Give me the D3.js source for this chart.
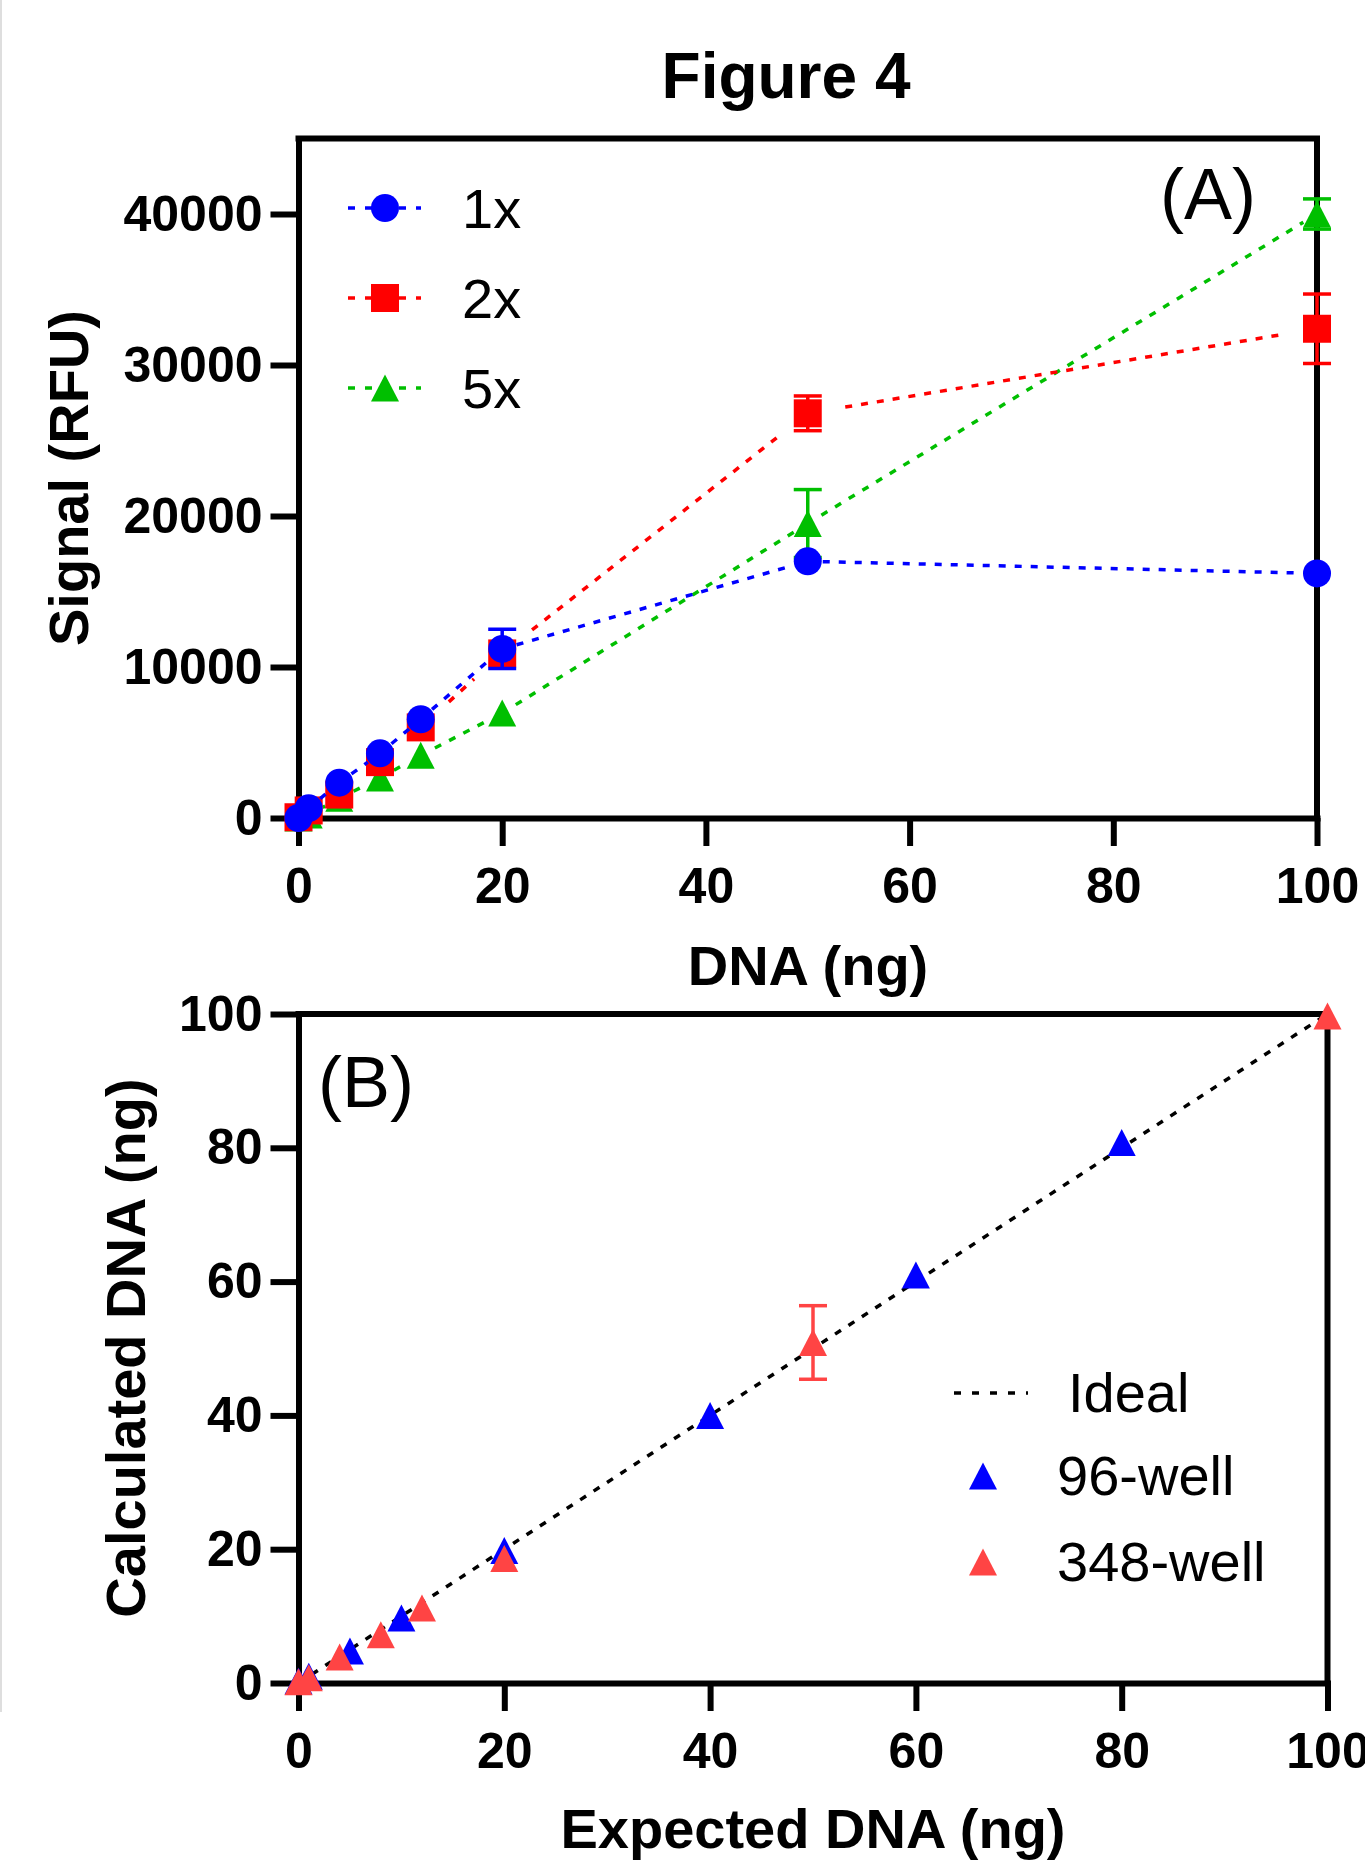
<!DOCTYPE html>
<html>
<head>
<meta charset="utf-8">
<script src="https://cdn.jsdelivr.net/npm/d3@7"></script>
<style>
	body { margin: 0; background: #fff; }
	svg { display: block; font-family: "Liberation Sans", Arial, sans-serif; }
</style>
</head>
<body>
<div id="chart"></div>
<script>
// ---- Panel A data: signal (RFU) vs DNA (ng)
var dnaA = [0, 1, 4, 8, 12, 20, 50, 100];
var sig1x = [0, 650, 2340, 4280, 6540, 11200, 17000, 16200];
var sd1x = [0, 0, 0, 0, 0, 1300, 0, 0];
var sig2x = [50, 500, 1550, 3700, 6000, 10900, 26800, 32400];
var sd2x = [0, 0, 0, 0, 0, 0, 1150, 2300];
var sig5x = [0, 200, 1300, 2650, 4150, 6950, 19500, 40000];
var sd5x = [0, 0, 0, 0, 0, 0, 2250, 1000];
var namesA = ["1x", "2x", "5x"];
var ticksAx = [0, 20, 40, 60, 80, 100];
var ticksAy = [0, 10000, 20000, 30000, 40000];

// ---- Panel B data: calculated vs expected DNA (ng)
var exp96 = [0, 1, 5, 10, 20, 40, 60, 80];
var calc96 = [0.3, 1.0, 4.8, 9.7, 19.8, 40.0, 61.0, 80.8];
var exp348 = [0, 1, 4, 8, 12, 20, 50, 100];
var calc348 = [0.2, 0.8, 3.9, 7.2, 11.2, 18.6, 50.9, 99.7];
var sd348 = [0, 0, 0, 0, 0, 0, 5.5, 0];
var idealLine = [0, 100];
var namesB = ["Ideal", "96-well", "348-well"];
var ticksB = [0, 20, 40, 60, 80, 100];

var W = 1365, H = 1861;
var svg = d3.select("#chart").append("svg")
	.attr("width", W)
	.attr("height", H);

// faint page edge on the left
svg.append("line")
	.attr("x1", 1).attr("x2", 1)
	.attr("y1", 0).attr("y2", 1712)
	.attr("stroke", "#dedede")
	.attr("stroke-width", 2);

// marker shapes
function markerPath(shape) {
	if (shape == "circle") return d3.symbol(d3.symbolCircle, Math.PI * 14 * 14)();
	if (shape == "square") return "M-14,-14H14V14H-14Z";
	return "M0,-13.5L14,13.5L-14,13.5Z";
}

// build axes + frame for a panel
function drawFrame(x, y, xticks, yticks) {
	var x0 = x.range()[0], x1 = x.range()[1];
	var y0 = y.range()[0], y1 = y.range()[1];

	var gy = svg.append("g")
		.attr("transform", "translate(" + x0 + ",0)")
		.call(d3.axisLeft(y).tickValues(yticks).tickSize(28).tickSizeOuter(0).tickPadding(8).tickFormat(d3.format("d")));
	var gx = svg.append("g")
		.attr("transform", "translate(0," + y0 + ")")
		.call(d3.axisBottom(x).tickValues(xticks).tickSize(28).tickSizeOuter(0).tickPadding(21).tickFormat(d3.format("d")));

	[gx, gy].forEach(function(g) {
		g.attr("font-family", null).attr("font-size", null);
		g.select(".domain").attr("stroke-width", 6).attr("stroke-linecap", "square");
		g.selectAll(".tick line").attr("stroke-width", 6);
		g.selectAll(".tick text")
			.style("font-size", "50px")
			.style("font-weight", "bold")
			.attr("fill", "#000");
	});

	// top and right border
	svg.append("path")
		.attr("d", "M" + x0 + "," + y1 + "H" + x1 + "V" + y0)
		.attr("fill", "none")
		.attr("stroke", "#000")
		.attr("stroke-width", 6)
		.attr("stroke-linecap", "square");
}

// one data set: trimmed dotted line, error bars, markers
function drawSeries(x, y, xs, ys, sds, color, shape, gap) {
	var pts = xs.map(function(d, i) { return [x(d), y(ys[i])]; });
	var segs = d3.pairs(pts).map(function(p) {
		var dx = p[1][0] - p[0][0], dy = p[1][1] - p[0][1];
		var len = Math.sqrt(dx * dx + dy * dy);
		if (len <= 2 * gap) return null;
		var ux = dx / len, uy = dy / len;
		return [p[0][0] + ux * gap, p[0][1] + uy * gap, p[1][0] - ux * gap, p[1][1] - uy * gap];
	}).filter(function(d) { return d; });

	var g = svg.append("g");
	g.selectAll("line.seg")
		.data(segs)
		.enter()
		.append("line")
		.attr("class", "seg")
		.attr("x1", function(d) { return d[0]; })
		.attr("y1", function(d) { return d[1]; })
		.attr("x2", function(d) { return d[2]; })
		.attr("y2", function(d) { return d[3]; })
		.attr("stroke", color)
		.attr("stroke-width", 3.5)
		.attr("stroke-dasharray", "7,9");

	var idx = d3.range(xs.length).filter(function(i) { return sds && sds[i] > 0; });
	var eb = g.selectAll("g.eb")
		.data(idx)
		.enter()
		.append("g")
		.attr("class", "eb")
		.attr("stroke", color)
		.attr("stroke-width", 3.5);
	eb.append("line")
		.attr("x1", function(i) { return x(xs[i]); })
		.attr("x2", function(i) { return x(xs[i]); })
		.attr("y1", function(i) { return y(ys[i] - sds[i]); })
		.attr("y2", function(i) { return y(ys[i] + sds[i]); });
	[-1, 1].forEach(function(s) {
		eb.append("line")
			.attr("x1", function(i) { return x(xs[i]) - 14; })
			.attr("x2", function(i) { return x(xs[i]) + 14; })
			.attr("y1", function(i) { return y(ys[i] + s * sds[i]); })
			.attr("y2", function(i) { return y(ys[i] + s * sds[i]); });
	});

	g.selectAll("path.mk")
		.data(xs)
		.enter()
		.append("path")
		.attr("class", "mk")
		.attr("d", markerPath(shape))
		.attr("transform", function(d, i) { return "translate(" + x(d) + "," + y(ys[i]) + ")"; })
		.attr("fill", color);
}

// ================= Panel A =================
var xA = d3.scaleLinear().domain([0, 100]).range([298.5, 1317]);
var yA = d3.scaleLinear().domain([0, 45000]).range([818, 138.5]);
drawFrame(xA, yA, ticksAx, ticksAy);

var colorA = d3.scaleOrdinal().domain(namesA).range(["#0000ff", "#ff0000", "#00bf00"]);
var shapeA = { "1x": "circle", "2x": "square", "5x": "triangle" };

// drawn back to front: 5x, 2x, 1x
drawSeries(xA, yA, dnaA, sig5x, sd5x, colorA("5x"), "triangle", 16);
drawSeries(xA, yA, dnaA, sig2x, sd2x, colorA("2x"), "square", 38);
drawSeries(xA, yA, dnaA, sig1x, sd1x, colorA("1x"), "circle", 15);

svg.append("text")
	.attr("x", 786)
	.attr("y", 98)
	.attr("text-anchor", "middle")
	.style("font-size", "64px")
	.style("font-weight", "bold")
	.text("Figure 4");

svg.append("text")
	.attr("x", 808)
	.attr("y", 985)
	.attr("text-anchor", "middle")
	.style("font-size", "56px")
	.style("font-weight", "bold")
	.text("DNA (ng)");

svg.append("text")
	.attr("transform", "translate(88,478) rotate(-90)")
	.attr("text-anchor", "middle")
	.style("font-size", "56px")
	.style("font-weight", "bold")
	.text("Signal (RFU)");

svg.append("text")
	.attr("x", 1160)
	.attr("y", 219)
	.style("font-size", "72px")
	.text("(A)");

// legend A
var legA = svg.selectAll("g.legA")
	.data(namesA)
	.enter()
	.append("g")
	.attr("class", "legA")
	.attr("transform", function(d, i) { return "translate(0," + (208 + i * 90) + ")"; });
legA.append("line")
	.attr("x1", 348).attr("x2", 421)
	.attr("stroke", function(d) { return colorA(d); })
	.attr("stroke-width", 3.5)
	.attr("stroke-dasharray", "7,10");
legA.append("path")
	.attr("d", function(d) { return markerPath(shapeA[d]); })
	.attr("transform", "translate(385,0)")
	.attr("fill", function(d) { return colorA(d); });
legA.append("text")
	.attr("x", 462)
	.attr("y", 20)
	.style("font-size", "56px")
	.text(function(d) { return d; });

// ================= Panel B =================
var xB = d3.scaleLinear().domain([0, 100]).range([298.5, 1327.5]);
var yB = d3.scaleLinear().domain([0, 100]).range([1683, 1014]);
drawFrame(xB, yB, ticksB, ticksB);

var colorB = d3.scaleOrdinal().domain(namesB).range(["#000000", "#0000ff", "#ff4444"]);

svg.append("line")
	.attr("x1", xB(idealLine[0])).attr("y1", yB(idealLine[0]))
	.attr("x2", xB(idealLine[1])).attr("y2", yB(idealLine[1]))
	.attr("stroke", colorB("Ideal"))
	.attr("stroke-width", 3.5)
	.attr("stroke-dasharray", "7,9");

drawSeries(xB, yB, exp96, calc96, null, colorB("96-well"), "triangle", 9999);
drawSeries(xB, yB, exp348, calc348, sd348, colorB("348-well"), "triangle", 9999);

svg.append("text")
	.attr("x", 813)
	.attr("y", 1848)
	.attr("text-anchor", "middle")
	.style("font-size", "56px")
	.style("font-weight", "bold")
	.text("Expected DNA (ng)");

svg.append("text")
	.attr("transform", "translate(145,1348) rotate(-90)")
	.attr("text-anchor", "middle")
	.style("font-size", "56px")
	.style("font-weight", "bold")
	.text("Calculated DNA (ng)");

svg.append("text")
	.attr("x", 318)
	.attr("y", 1107)
	.style("font-size", "72px")
	.text("(B)");

// legend B
var legB = svg.selectAll("g.legB")
	.data(namesB)
	.enter()
	.append("g")
	.attr("class", "legB")
	.attr("transform", function(d, i) { return "translate(0," + [1393, 1476, 1562][i] + ")"; });
legB.filter(function(d) { return d == "Ideal"; })
	.append("line")
	.attr("x1", 954).attr("x2", 1028)
	.attr("stroke", "#000")
	.attr("stroke-width", 3.5)
	.attr("stroke-dasharray", "7,11");
legB.filter(function(d) { return d != "Ideal"; })
	.append("path")
	.attr("d", markerPath("triangle"))
	.attr("transform", "translate(983,0)")
	.attr("fill", function(d) { return colorB(d); });
legB.append("text")
	.attr("x", function(d) { return d == "Ideal" ? 1068 : 1057; })
	.attr("y", 19)
	.style("font-size", "56px")
	.text(function(d) { return d; });
</script>
</body>
</html>
